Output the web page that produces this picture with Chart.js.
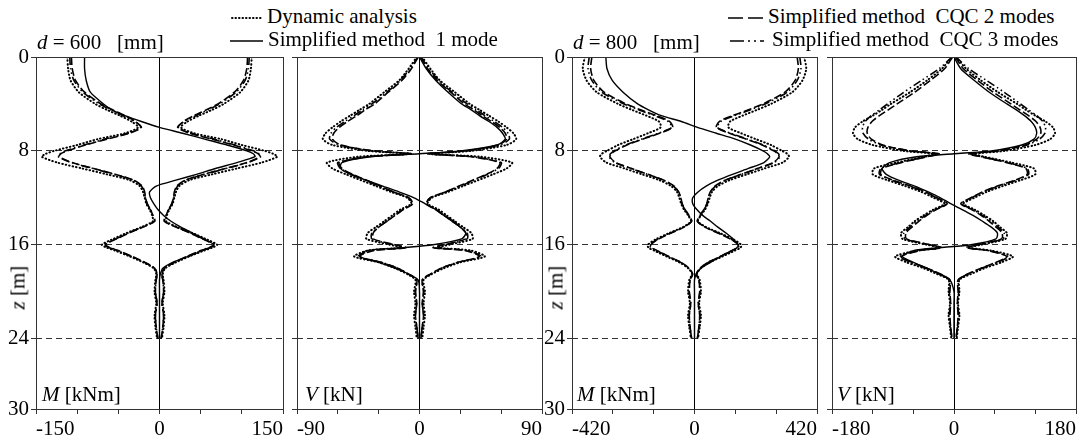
<!DOCTYPE html>
<html>
<head>
<meta charset="utf-8">
<script src="https://cdn.jsdelivr.net/npm/chart.js@4.4.1/dist/chart.umd.min.js"></script>
<style>
    body {
        margin: 0;
        width: 1077px;
        height: 441px;
        overflow: hidden;
        background: #fff;
        position: relative;
        font-family: "Liberation Serif", "Times New Roman", serif;
        color: #000;
    }
    .panel { position: absolute; }
    .txt {
        position: absolute;
        font-size: 21px;
        line-height: 1;
        white-space: pre;
    }
    .key { position: absolute; }
    .zlab {
        position: absolute;
        width: 60px;
        text-align: center;
        transform: rotate(-90deg);
    }
</style>
</head>
<body>

<canvas id="chartM600" class="panel" width="286" height="400" style="left:0px;top:41px"></canvas>
<canvas id="chartV600" class="panel" width="254" height="400" style="left:291px;top:41px"></canvas>
<canvas id="chartM800" class="panel" width="280" height="400" style="left:540px;top:41px"></canvas>
<canvas id="chartV800" class="panel" width="253" height="400" style="left:826px;top:41px"></canvas>

<!-- legend -->
<svg class="key" style="left:230px;top:12px" width="36" height="12">
    <line x1="2" y1="6" x2="33" y2="6" stroke="#000" stroke-width="2" stroke-dasharray="0.5 3" stroke-linecap="round"/>
</svg>
<div class="txt" style="left:267px;top:6px">Dynamic analysis</div>

<svg class="key" style="left:228px;top:35px" width="38" height="12">
    <line x1="2" y1="6" x2="35" y2="6" stroke="#000" stroke-width="1.5"/>
</svg>
<div class="txt" style="left:268px;top:29px">Simplified method  1 mode</div>

<svg class="key" style="left:726px;top:12px" width="44" height="12">
    <line x1="2" y1="6" x2="41" y2="6" stroke="#000" stroke-width="1.6" stroke-dasharray="15 5"/>
</svg>
<div class="txt" style="left:768px;top:6px">Simplified method  CQC 2 modes</div>

<svg class="key" style="left:728px;top:35px" width="40" height="12">
    <line x1="2" y1="6" x2="36" y2="6" stroke="#000" stroke-width="1.6" stroke-dasharray="14 4 2 4 2 4"/>
</svg>
<div class="txt" style="left:772px;top:29px">Simplified method  CQC 3 modes</div>

<!-- titles and axis names -->
<div class="txt" style="left:37px;top:32px"><i>d</i> = 600   [mm]</div>
<div class="txt" style="left:573px;top:32px"><i>d</i> = 800   [mm]</div>

<div class="txt zlab" style="left:-12px;top:277px"><i>z</i> [m]</div>
<div class="txt zlab" style="left:526px;top:277px"><i>z</i> [m]</div>

<div class="txt" style="left:42px;top:384px"><i>M</i> [kNm]</div>
<div class="txt" style="left:305px;top:384px"><i>V</i> [kN]</div>
<div class="txt" style="left:577px;top:384px"><i>M</i> [kNm]</div>
<div class="txt" style="left:837px;top:384px"><i>V</i> [kN]</div>

<script>

// =====================================
// DATA
// =====================================

// depth below the head of the pile [m]
const depth = [0, 1, 2, 3, 4, 4.5, 5, 5.5, 6, 6.5, 7, 7.5, 8, 8.25, 8.5, 9, 9.5, 10, 10.5, 11, 11.5, 12, 12.5, 13, 13.5, 14, 14.5, 15, 15.5, 16, 16.25, 16.5, 17, 17.5, 18, 18.5, 19, 20, 21, 22, 23, 24];

const depthTicks = [0, 8, 16, 24, 30];
const layerDepths = [8, 16, 24];

// d = 600 mm, moment [kNm]
const m600Dynamic = [112, 111, 108, 98, 78, 64, 48, 34, 26, 42, 75, 100, 128, 138, 143, 124, 94, 64, 36, 24, 20, 18, 16, 12, 9, 8, 22, 40, 56, 70, 64, 54, 36, 20, 7, 4, 5, 6, 4, 6, 5, 3];
const m600Cqc2 = [107, 106, 102, 91, 71, 57, 42, 29, 22, 37, 64, 90, 112, 120, 122, 106, 80, 54, 31, 21, 18, 17, 15, 11, 8, 6, 20, 37, 52, 66, 60, 50, 33, 18, 6, 3, 4, 5, 3, 5, 4, 2];
const m600Cqc3 = [109, 108, 104, 93, 73, 59, 44, 30, 23, 38, 66, 92, 114, 121, 123, 107, 81, 55, 32, 22, 19, 17, 15, 11, 8, 6, 21, 38, 53, 67, 61, 51, 34, 18, 6, 3, 4, 5, 3, 5, 4, 2];
const m600Mode1 = [-91, -91, -89, -84, -68, -58, -42, -22, 0, 28, 55, 82, 106, 114, 116, 94, 68, 45, 20, -4, -12, -11, -7, -2, 5, 14, 26, 40, 54, 66, 62, 52, 35, 16, 4, 1, 0, 0, 0, 0, 0, 0];

// d = 600 mm, shear [kN]
const v600Dynamic = [2, 8, 15, 26, 37, 44, 51, 58, 64, 69, 71, 64, 38, 8, 45, 68, 64, 54, 43, 32, 21, 9, 6, 14, 20, 26, 32, 38, 39, 22, 14, 38, 48, 30, 18, 9, 3, 4, 3, 4, 3, 2];
const v600Cqc2 = [1, 6, 13, 23, 33, 40, 46, 53, 59, 63, 64, 58, 34, 6, 38, 59, 57, 49, 39, 29, 19, 8, 5, 12, 18, 24, 30, 34, 34, 18, 10, 34, 44, 28, 16, 8, 2, 3, 2, 3, 2, 1];
const v600Cqc3 = [1, 7, 14, 24, 35, 42, 48, 55, 61, 65, 66, 59, 35, 6, 39, 60, 58, 50, 40, 30, 19, 8, 5, 12, 18, 24, 30, 35, 35, 19, 11, 35, 45, 28, 16, 8, 2, 3, 2, 3, 2, 1];
const v600Mode1 = [0, 5, 12, 21, 31, 38, 44, 51, 57, 61, 63, 57, 30, 0, -36, -57, -58, -51, -39, -27, -15, -4, 4, 12, 18, 25, 30, 34, 31, 10, -12, -39, -44, -30, -18, -8, -1, 0, 0, 0, 0, 0];

// d = 800 mm, moment [kNm]
const m800Dynamic = [376, 383, 370, 335, 262, 215, 165, 122, 116, 160, 210, 262, 300, 318, 324, 302, 240, 180, 120, 80, 60, 52, 46, 36, 22, 12, 40, 86, 130, 160, 158, 138, 96, 52, 22, 8, 18, 22, 16, 22, 18, 12];
const m800Cqc2 = [352, 356, 345, 310, 235, 185, 130, 85, 75, 120, 178, 232, 272, 285, 290, 270, 215, 160, 105, 70, 54, 47, 42, 32, 19, 10, 36, 80, 122, 150, 148, 128, 88, 46, 19, 6, 15, 18, 13, 18, 15, 10];
const m800Cqc3 = [361, 365, 352, 318, 242, 192, 137, 90, 78, 124, 182, 236, 276, 288, 293, 273, 218, 162, 107, 72, 55, 48, 43, 33, 20, 10, 37, 82, 124, 152, 150, 130, 90, 47, 20, 7, 15, 18, 13, 18, 15, 10];
const m800Mode1 = [-304, -300, -282, -245, -195, -158, -114, -45, 10, 75, 140, 192, 235, 250, 258, 238, 185, 130, 80, 40, 12, -6, -6, 8, 28, 55, 80, 108, 132, 150, 145, 128, 90, 55, 22, 6, 0, 0, 0, 0, 0, 0];

// d = 800 mm, shear [kN]
const v800Dynamic = [3, 18, 40, 65, 93, 106, 120, 135, 146, 149, 142, 120, 75, 30, 45, 85, 118, 120, 98, 72, 48, 30, 14, 30, 45, 58, 68, 78, 76, 40, 22, 55, 87, 70, 45, 25, 8, 8, 6, 8, 6, 4];
const v800Cqc2 = [2, 14, 35, 58, 84, 97, 110, 121, 127, 128, 122, 105, 65, 22, 40, 78, 106, 108, 90, 64, 42, 25, 10, 26, 40, 52, 62, 71, 70, 35, 18, 50, 78, 62, 40, 20, 6, 6, 5, 6, 5, 3];
const v800Cqc3 = [3, 22, 48, 74, 98, 110, 122, 131, 135, 134, 126, 108, 66, 24, 41, 80, 108, 110, 92, 66, 43, 26, 11, 28, 42, 55, 65, 74, 72, 36, 19, 51, 80, 64, 41, 21, 7, 7, 5, 7, 5, 3];
const v800Mode1 = [0, 10, 30, 52, 78, 92, 104, 114, 120, 122, 118, 100, 55, 0, -55, -95, -106, -100, -82, -58, -38, -20, -5, 12, 28, 42, 55, 64, 62, 25, -20, -60, -76, -60, -40, -22, -6, 0, 0, 0, 0, 0];

// axis ranges and labelled ticks
const m600Range = [-150, 150];
const v600Range = [-90, 90];
const m800Range = [-420, 420];
const v800Range = [-180, 180];

// =====================================
// STYLES
// =====================================

Chart.defaults.font.family = '"Liberation Serif", "Times New Roman", serif';
Chart.defaults.font.size = 21;
Chart.defaults.color = "#000";

const STYLE = {
    dynamic: { borderWidth: 2, borderDash: [0.5, 3], borderCapStyle: "round" },
    cqc2: { borderWidth: 1.6, borderDash: [8, 3] },
    cqc3: { borderWidth: 1.6, borderDash: [8, 3, 1.5, 3, 1.5, 3] },
    mode1: { borderWidth: 1.4, borderDash: [] }
};

// =====================================
// HELPERS
// =====================================

function points(values, sign) {
    return values.map((v, i) => ({ x: sign * v, y: depth[i] }));
}

function line(values, sign, style) {
    return Object.assign({
        data: points(values, sign),
        showLine: true,
        borderColor: "#000",
        backgroundColor: "#000",
        pointRadius: 0,
        fill: false,
        tension: 0.25
    }, style);
}

// frame around the plot area
const frame = {
    id: "frame",
    afterDatasetsDraw(chart) {
        const a = chart.chartArea;
        const ctx = chart.ctx;
        ctx.save();
        ctx.strokeStyle = "#333";
        ctx.lineWidth = 1;
        ctx.setLineDash([]);
        ctx.strokeRect(Math.round(a.left) + 0.5, Math.round(a.top) + 0.5,
            Math.round(a.right - a.left), Math.round(a.bottom - a.top));
        ctx.restore();
    }
};

// =====================================
// PANEL
// =====================================

function makePanel(id, range, dyn, cqc2, cqc3, mode1, showDepth, yWidth) {

    const step = range[1] / 3;

    new Chart(document.getElementById(id), {
        type: "scatter",
        data: {
            datasets: [
                line(dyn, 1, STYLE.dynamic),
                line(dyn, -1, STYLE.dynamic),
                line(cqc2, 1, STYLE.cqc2),
                line(cqc2, -1, STYLE.cqc2),
                line(cqc3, 1, STYLE.cqc3),
                line(cqc3, -1, STYLE.cqc3),
                line(mode1, 1, STYLE.mode1)
            ]
        },
        options: {
            responsive: false,
            animation: false,
            events: [],
            layout: { padding: { top: 16, left: 0, right: 0, bottom: 0 } },
            plugins: {
                legend: { display: false },
                tooltip: { enabled: false }
            },
            scales: {
                x: {
                    type: "linear",
                    min: range[0],
                    max: range[1],
                    ticks: {
                        stepSize: step,
                        autoSkip: false,
                        maxRotation: 0,
                        align: "inner",
                        padding: 3,
                        callback: v => (v === range[0] || v === 0 || v === range[1]) ? String(v) : ""
                    },
                    grid: {
                        color: c => (c.tick && c.tick.value === 0) ? "#000" : "transparent",
                        tickColor: "#333",
                        tickLength: 5,
                        lineWidth: 1
                    },
                    border: { display: false },
                    afterFit: s => { s.height = 32; }
                },
                y: {
                    type: "linear",
                    reverse: true,
                    min: 0,
                    max: 30,
                    afterBuildTicks: s => { s.ticks = depthTicks.map(v => ({ value: v })); },
                    ticks: {
                        display: showDepth,
                        padding: 2
                    },
                    grid: {
                        color: c => (c.tick && layerDepths.includes(c.tick.value)) ? "#333" : "transparent",
                        tickColor: "#333",
                        tickLength: 5,
                        lineWidth: 1
                    },
                    border: { display: false, dash: [6, 4] },
                    afterFit: s => { s.width = yWidth; }
                }
            }
        },
        plugins: [frame]
    });
}

// =====================================
// DRAW
// =====================================

makePanel("chartM600", m600Range, m600Dynamic, m600Cqc2, m600Cqc3, m600Mode1, true, 36);
makePanel("chartV600", v600Range, v600Dynamic, v600Cqc2, v600Cqc3, v600Mode1, false, 6);
makePanel("chartM800", m800Range, m800Dynamic, m800Cqc2, m800Cqc3, m800Mode1, true, 32);
makePanel("chartV800", v800Range, v800Dynamic, v800Cqc2, v800Cqc3, v800Mode1, false, 6);

</script>
</body>
</html>
